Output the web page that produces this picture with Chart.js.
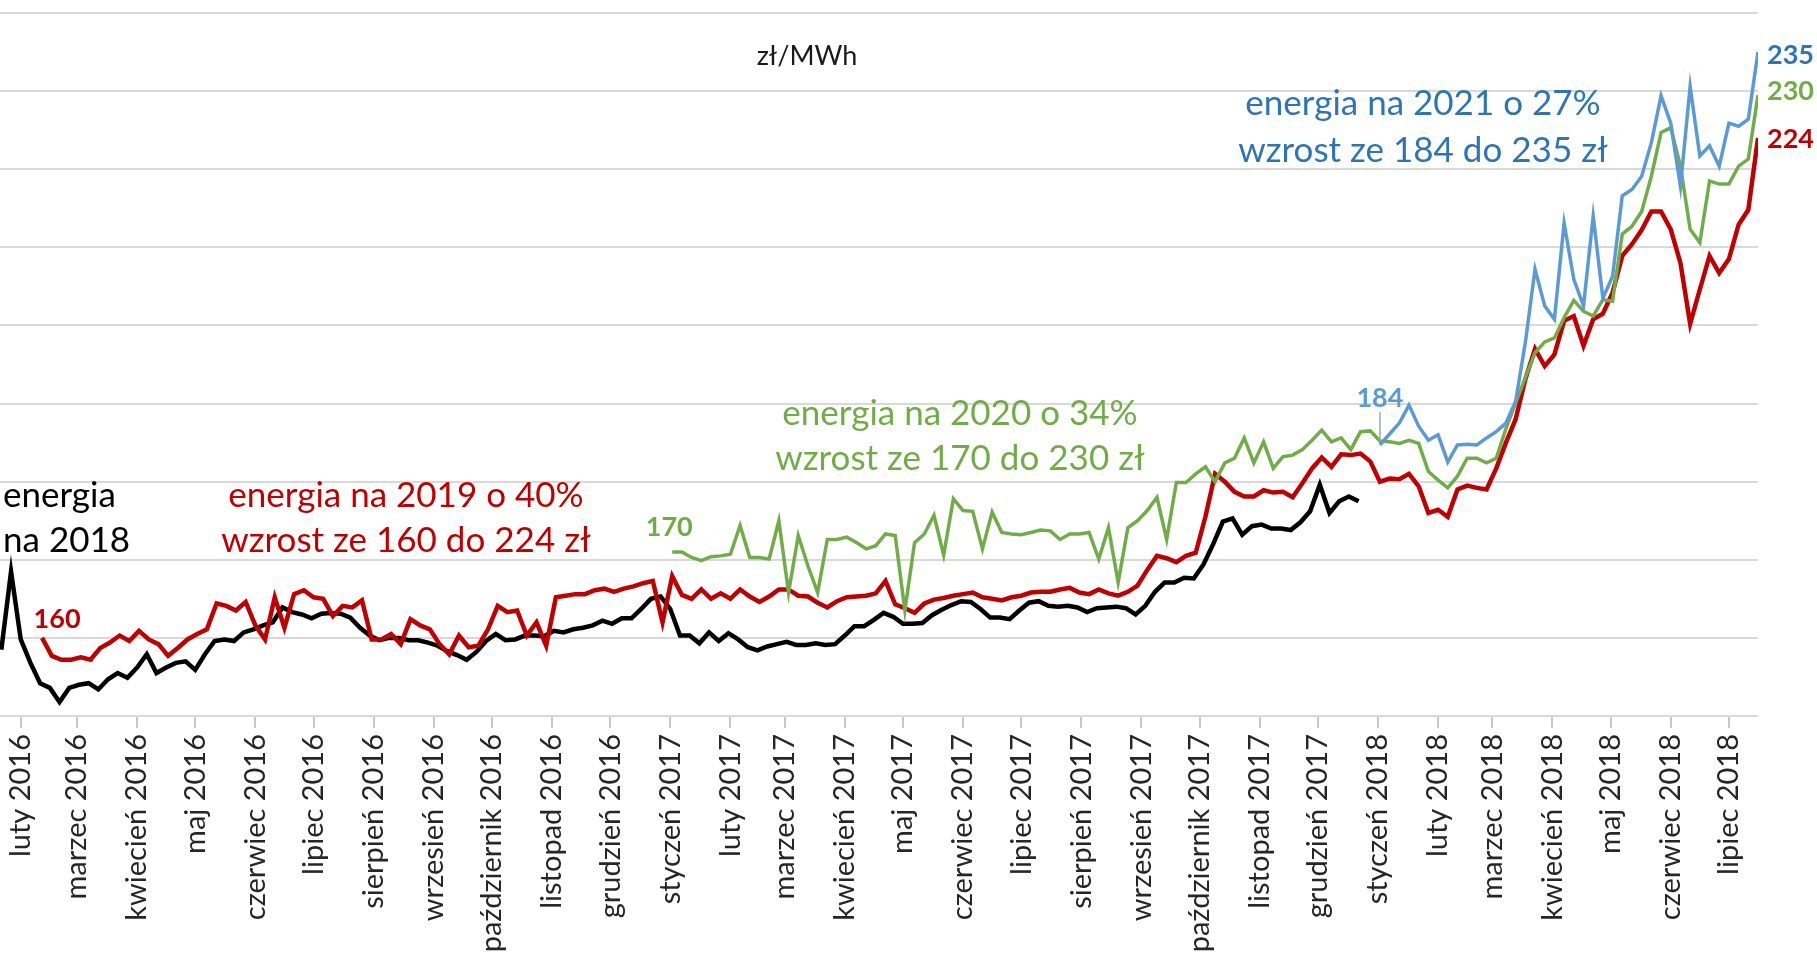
<!DOCTYPE html>
<html>
<head>
<meta charset="utf-8">
<script src="https://cdn.jsdelivr.net/npm/chart.js@4.4.1/dist/chart.umd.min.js"></script>
<style>
  html, body { margin: 0; padding: 0; background: #fff; }
</style>
</head>
<body>
<canvas id="chart" width="1817" height="953"></canvas>
<script>
// ===== DATA =====
// x = days counted from 1 Feb 2016, one value every 5 days
const STEP = 5;

const monthLabels = [
  "luty 2016", "marzec 2016", "kwiecień 2016", "maj 2016", "czerwiec 2016", "lipiec 2016",
  "sierpień 2016", "wrzesień 2016", "październik 2016", "listopad 2016", "grudzień 2016",
  "styczeń 2017", "luty 2017", "marzec 2017", "kwiecień 2017", "maj 2017", "czerwiec 2017",
  "lipiec 2017", "sierpień 2017", "wrzesień 2017", "październik 2017", "listopad 2017",
  "grudzień 2017", "styczeń 2018", "luty 2018", "marzec 2018", "kwiecień 2018", "maj 2018",
  "czerwiec 2018", "lipiec 2018"
];

// energia na 2018 (black)
const start2018 = -10;
const energy2018 = [
  158.5, 168.5, 159.8, 156.8, 154.2, 153.6, 151.8, 153.6, 154.0, 154.2, 153.4, 154.7, 155.5, 154.9,
  156.2, 157.9, 155.5, 156.2, 156.8, 157.0, 155.9, 157.9, 159.6, 159.8, 159.6, 160.7, 161.1, 161.6,
  162.0, 163.9, 163.3, 163.0,
  162.5, 163.1, 163.2, 163.1, 162.6, 161.3, 160.3, 159.7, 160.0, 160.0, 159.7, 159.7, 159.4, 159.0,
  158.3, 157.8, 157.2, 158.2, 159.6, 160.5, 159.7, 159.8, 160.3, 160.3, 160.2, 160.9, 160.7, 161.1,
  161.3, 161.6, 162.2,
  161.8, 162.5, 162.5, 163.7, 165.0, 165.3, 163.7, 160.3, 160.3, 159.3, 160.7, 159.6, 160.6, 159.8,
  158.8, 158.4, 158.9, 159.2, 159.5, 159.1, 159.1, 159.3, 159.1, 159.2, 160.3, 161.5, 161.5, 162.3,
  163.2, 162.7, 161.8,
  161.8, 161.9, 162.9, 163.6, 164.2, 164.7, 164.6, 163.7, 162.6, 162.6, 162.4, 163.5, 164.5, 164.7,
  164.1, 164.0, 164.1, 163.9, 163.3, 163.8, 163.9, 164.0, 163.8, 163.0, 164.1, 165.9, 167.1, 167.1,
  167.7, 167.6, 169.4,
  172.0, 174.9, 175.3, 173.2, 174.3, 174.5, 174.0, 174.0, 173.8, 174.8, 176.2, 179.6, 176.0, 177.5,
  178.1, 177.5
];

// energia na 2019 (red)
const start2019 = 11;
const energy2019 = [
  160.0, 157.7, 157.2, 157.2, 157.5, 157.2, 158.7, 159.4, 160.3, 159.6, 160.9, 159.8, 159.2, 157.7,
  158.7, 159.8, 160.5, 161.1, 164.4, 164.1, 163.5, 164.6, 161.6, 159.8, 165.2, 161.3, 165.6, 166.1,
  165.2, 165.0, 162.8, 164.1, 163.9, 164.8, 159.8, 159.8, 160.5, 159.2, 162.4, 161.6, 161.1, 159.2,
  157.9, 160.3, 158.8, 159.0, 161.1, 164.1, 163.3, 163.5, 160.3, 162.0, 159.0, 165.2, 165.4, 165.6,
  165.6, 166.1, 166.3,
  165.9, 166.3, 166.6, 167.0, 167.3, 162.0, 167.9, 165.5, 165.0, 166.2, 165.0, 165.7, 165.0, 166.2,
  165.3, 164.6, 165.3, 166.2, 166.2, 165.4, 165.3, 164.5, 163.9, 164.7, 165.2, 165.3, 165.4, 165.7,
  167.3, 164.3,
  163.8, 163.2, 164.4, 164.9, 165.1, 165.4, 165.6, 165.8, 165.2, 165.0, 164.8, 165.2, 165.4, 165.8,
  165.9, 165.9, 166.2, 166.4, 165.8, 165.6, 166.2, 165.7, 165.4, 165.9, 166.7, 168.7, 170.5, 170.2,
  169.7, 170.5, 170.9,
  175.5, 181.0, 180.0, 178.7, 178.1, 178.1, 178.9, 178.6, 178.7, 178.0, 179.8, 181.7, 183.1, 181.9,
  183.5, 183.4, 183.6, 182.6, 180.0, 180.4, 180.3, 181.0, 179.4, 176.0, 176.4, 175.5, 179.0, 179.5,
  179.2, 179.0, 181.7,
  185.0, 188.0, 193.1, 197.0, 194.8, 196.3, 200.6, 201.2, 197.4, 200.8, 201.5, 204.2, 208.9, 210.4,
  212.2, 214.6, 214.6, 212.3, 208.0, 200.2, 204.6, 208.9, 206.7, 208.5, 212.9, 214.8, 224.0
];

// energia na 2020 (green)
const start2020 = 336;
const energy2020 = [
  171.0, 171.0, 170.3, 169.9, 170.4, 170.5, 170.7, 174.4, 170.3, 170.3, 170.1, 175.0, 165.8, 173.1,
  169.2, 165.8, 172.6, 172.6, 172.9, 172.2, 171.4, 171.8, 173.3, 173.1, 163.5,
  172.2, 173.3, 175.7, 170.6, 177.8, 176.3, 176.2, 171.4, 176.1, 173.5, 173.3, 173.2, 173.5, 173.8,
  173.7, 172.6, 173.3, 173.3, 173.5, 170.1, 174.1, 167.1, 174.1, 175.0, 176.3, 178.0, 172.6, 179.9,
  179.9, 181.0,
  181.9, 180.0, 182.4, 183.0, 185.6, 182.4, 185.1, 181.7, 183.2, 183.4, 184.1, 185.3, 186.6, 185.1,
  185.6, 184.1, 186.4, 186.5, 185.2, 185.1, 184.9, 185.3, 184.9, 181.3, 180.2, 179.2, 180.7, 183.0,
  183.0, 182.4, 183.0,
  186.8, 190.1, 193.3, 196.5, 197.9, 198.4, 201.0, 203.2, 201.8, 201.2, 203.3, 203.1, 211.7, 212.7,
  214.6, 219.1, 224.7, 225.3, 220.4, 212.3, 210.6, 218.5, 218.1, 218.1, 220.4, 221.3, 229.5
];

// energia na 2021 (blue)
const start2021 = 701;
const energy2021 = [
  184.7, 186.1, 187.5, 189.8, 187.1, 185.3, 186.0, 182.5, 184.7, 184.8, 184.7, 185.6, 186.4,
  187.5, 190.3, 197.8, 207.2, 202.5, 200.8, 213.1, 205.9, 202.5, 214.0, 203.5, 206.3, 216.6, 217.4,
  219.1, 223.4, 229.4, 225.9, 217.8, 230.6, 221.7, 223.0, 220.4, 225.9, 225.5, 226.4, 235.0
];

// ===== HELPERS =====
const tickDays = monthLabels.map((_, i) => (Date.UTC(2016, 1 + i, 1) - Date.UTC(2016, 1, 1)) / 864e5);

function toPoints(start, values) {
  return values.map((v, i) => ({ x: start + i * STEP, y: v }));
}

const FONT = "Lato";
const RED = "#c00000";
const GREEN = "#70ad47";
const BLUE_LINE = "#5b9bd5";
const BLUE_TEXT = "#2e75b6";

// ===== ANNOTATIONS =====
const notesPlugin = {
  id: "notes",
  afterDraw(chart) {
    const ctx = chart.ctx;
    const xs = chart.scales.x;
    const ys = chart.scales.y;
    ctx.save();
    ctx.textBaseline = "middle";

    function text(str, x, y, color, size, align, bold) {
      ctx.font = (bold ? "bold " : "") + size + "px " + FONT;
      ctx.fillStyle = color;
      ctx.textAlign = align;
      ctx.fillText(str, x, y);
    }

    // unit
    text("zł/MWh", 807, 56, "#1a1a1a", 27, "center");

    // descriptions
    text("energia", 3, 496, "#000", 35, "left");
    text("na 2018", 3, 541, "#000", 35, "left");
    text("energia na 2019 o 40%", 406, 496, RED, 35, "center");
    text("wzrost ze 160 do 224 zł", 406, 541, RED, 35, "center");
    text("energia na 2020 o 34%", 960, 414, GREEN, 35, "center");
    text("wzrost ze 170 do 230 zł", 960, 459, GREEN, 35, "center");
    text("energia na 2021 o 27%", 1423, 104, BLUE_TEXT, 35, "center");
    text("wzrost ze 184 do 235 zł", 1423, 151, BLUE_TEXT, 35, "center");

    // start values
    const r0 = { x: xs.getPixelForValue(start2019), y: ys.getPixelForValue(energy2019[0]) };
    text("160", r0.x + 15, r0.y - 19, RED, 27, "center", true);
    const g0 = { x: xs.getPixelForValue(start2020), y: ys.getPixelForValue(energy2020[0]) };
    text("170", g0.x - 3, g0.y - 25, GREEN, 27, "center", true);
    const b0 = { x: xs.getPixelForValue(start2021), y: ys.getPixelForValue(energy2021[0]) };
    text("184", b0.x, b0.y - 47, BLUE_LINE, 27, "center", true);
    ctx.strokeStyle = "#a6a6a6";
    ctx.lineWidth = 1.5;
    ctx.beginPath();
    ctx.moveTo(b0.x, b0.y - 33);
    ctx.lineTo(b0.x, b0.y - 4);
    ctx.stroke();

    // end values
    const right = chart.chartArea.right + 9;
    text("235", right, ys.getPixelForValue(energy2021[energy2021.length - 1]) + 3, BLUE_TEXT, 27, "left", true);
    text("230", right, ys.getPixelForValue(energy2020[energy2020.length - 1]) - 4, GREEN, 27, "left", true);
    text("224", right, ys.getPixelForValue(energy2019[energy2019.length - 1]) + 1, RED, 27, "left", true);
    ctx.restore();
  }
};

// ===== CHART =====
function line(label, start, values, color, width, order) {
  return {
    label: label,
    data: toPoints(start, values),
    borderColor: color,
    backgroundColor: color,
    borderWidth: width,
    pointRadius: 0,
    tension: 0,
    fill: false,
    order: order
  };
}

new Chart(document.getElementById("chart"), {
  type: "line",
  data: {
    datasets: [
      line("energia na 2018", start2018, energy2018, "#000000", 4.5, 4),
      line("energia na 2019", start2019, energy2019, RED, 4.5, 3),
      line("energia na 2020", start2020, energy2020, GREEN, 3.5, 2),
      line("energia na 2021", start2021, energy2021, BLUE_LINE, 3.5, 1)
    ]
  },
  options: {
    responsive: false,
    animation: false,
    layout: { padding: { top: 13, right: 59, left: 0, bottom: 0 } },
    plugins: { legend: { display: false }, tooltip: { enabled: false } },
    scales: {
      x: {
        type: "linear",
        min: -10.7,
        max: 896,
        border: { display: false },
        grid: { drawOnChartArea: false, drawTicks: true, tickLength: 12, color: "#c8c8c8", lineWidth: 2 },
        afterBuildTicks: (scale) => { scale.ticks = tickDays.map(v => ({ value: v })); },
        afterFit: (scale) => { scale.height = 237; },
        ticks: {
          autoSkip: false,
          minRotation: 90,
          maxRotation: 90,
          padding: 6,
          color: "#262626",
          font: { family: FONT, size: 29 },
          callback: (value, index) => monthLabels[index]
        }
      },
      y: {
        min: 150,
        max: 240,
        border: { display: false },
        grid: { color: "#d9d9d9", lineWidth: 2, drawTicks: false },
        afterFit: (scale) => { scale.width = 0; },
        ticks: { display: false, stepSize: 10 }
      }
    }
  },
  plugins: [notesPlugin]
});
</script>
</body>
</html>
